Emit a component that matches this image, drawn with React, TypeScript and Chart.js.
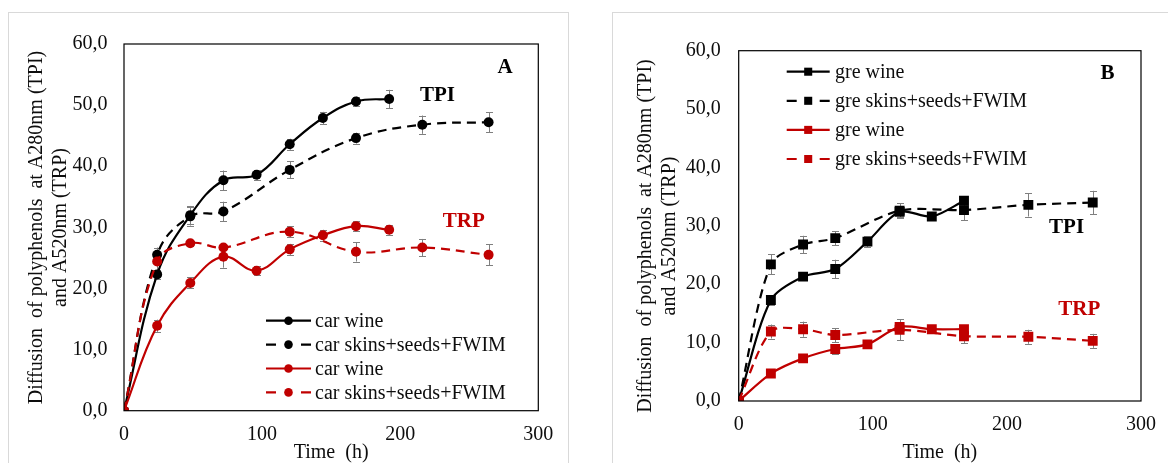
import React, { useEffect, useRef } from 'react';
import { Chart, registerables } from 'chart.js';

Chart.register(...registerables);

// ---------- DATA ----------
const xTickLabels = ['0', '100', '200', '300'];
const yTickLabels = ['0,0', '10,0', '20,0', '30,0', '40,0', '50,0', '60,0'];

// Panel A (car)
const timesWineA = [0, 24, 48, 72, 96, 120, 144, 168, 192];
const timesSkinsA = [0, 24, 48, 72, 120, 168, 216, 264];
const carWineTPI = [0, 22.3, 32.0, 37.7, 38.6, 43.6, 47.9, 50.6, 51.0];
const carWineTPIErr = [0, 0.8, 1.5, 1.6, 0.8, 0.9, 1.0, 0.8, 1.5];
const carSkinsTPI = [0, 25.5, 31.8, 32.6, 39.4, 44.6, 46.8, 47.2];
const carSkinsTPIErr = [0, 1.2, 1.5, 1.6, 1.4, 0.9, 1.5, 1.6];
const carWineTRP = [0, 13.9, 20.9, 25.2, 22.9, 26.4, 28.7, 30.2, 29.6];
const carWineTRPErr = [0, 1.0, 0.9, 1.8, 0.7, 0.9, 0.9, 0.8, 0.8];
const carSkinsTRP = [0, 24.4, 27.4, 26.7, 29.3, 26.0, 26.7, 25.5];
const carSkinsTRPErr = [0, 1.5, 0.4, 0.4, 0.9, 1.6, 1.4, 1.7];

// Panel B (gre)
const timesWineB = [0, 24, 48, 72, 96, 120, 144, 168];
const timesSkinsB = [0, 24, 48, 72, 120, 168, 216, 264];
const greWineTPI = [0, 17.3, 21.3, 22.6, 27.3, 32.4, 31.6, 34.3];
const greWineTPIErr = [0, 0.8, 0.5, 1.6, 0.9, 0.8, 0.3, 0.5];
const greSkinsTPI = [0, 23.4, 26.8, 27.9, 32.6, 32.7, 33.6, 34.0];
const greSkinsTPIErr = [0, 1.7, 1.5, 1.2, 1.3, 1.7, 2.0, 2.0];
const greWineTRP = [0, 4.7, 7.3, 8.9, 9.7, 12.7, 12.3, 12.3];
const greWineTRPErr = [0, 0.3, 0.3, 0.8, 0.3, 0.6, 0.3, 0.3];
const greSkinsTRP = [0, 11.9, 12.3, 11.3, 12.2, 11.1, 11.0, 10.3];
const greSkinsTRPErr = [0, 1.2, 1.3, 1.2, 1.8, 1.2, 1.2, 1.2];

const yTitleLines = ['Diffusion  of polyphenols  at A280nm (TPI)', 'and A520nm (TRP)'];
const xTitle = 'Time  (h)';

const BLACK = '#000000';
const RED = '#C00000';
const SERIF = "'Liberation Serif', 'Times New Roman', serif";
const TEXT = '#0d0d0d';

type Series = { label: string; times: number[]; values: number[]; errors: number[]; color: string; dashed: boolean };
type Note = { text: string; x: number; y: number; color: string; size: number };
type PanelCfg = {
  series: Series[];
  pointStyle: 'circle' | 'rect';
  pointRadius: number;
  legendRadius: number;
  tension: number;
  width: number;
  height: number;
  area: { left: number; top: number; right: number; bottom: number };
  yTickPad: number;
  yTitleX: number[];
  yTitleY: number;
  legend: { x: number; y0: number; dy: number; w: number; textGap: number };
  notes: Note[];
};

const panelA: PanelCfg = {
  series: [
    { label: 'car wine', times: timesWineA, values: carWineTPI, errors: carWineTPIErr, color: BLACK, dashed: false },
    { label: 'car skins+seeds+FWIM', times: timesSkinsA, values: carSkinsTPI, errors: carSkinsTPIErr, color: BLACK, dashed: true },
    { label: 'car wine', times: timesWineA, values: carWineTRP, errors: carWineTRPErr, color: RED, dashed: false },
    { label: 'car skins+seeds+FWIM', times: timesSkinsA, values: carSkinsTRP, errors: carSkinsTRPErr, color: RED, dashed: true },
  ],
  pointStyle: 'circle',
  pointRadius: 5,
  legendRadius: 4.3,
  tension: 0.4,
  width: 590,
  height: 463,
  area: { left: 124, top: 44, right: 538.3, bottom: 410.7 },
  yTickPad: 16.5,
  yTitleX: [37, 61],
  yTitleY: 227.5,
  legend: { x: 266, y0: 320.7, dy: 23.9, w: 45, textGap: 49 },
  notes: [
    { text: 'A', x: 276, y: 56.1, color: BLACK, size: 21 },
    { text: 'TPI', x: 227, y: 51.5, color: BLACK, size: 21 },
    { text: 'TRP', x: 246, y: 30.9, color: RED, size: 21 },
  ],
};

const panelB: PanelCfg = {
  series: [
    { label: 'gre wine', times: timesWineB, values: greWineTPI, errors: greWineTPIErr, color: BLACK, dashed: false },
    { label: 'gre skins+seeds+FWIM', times: timesSkinsB, values: greSkinsTPI, errors: greSkinsTPIErr, color: BLACK, dashed: true },
    { label: 'gre wine', times: timesWineB, values: greWineTRP, errors: greWineTRPErr, color: RED, dashed: false },
    { label: 'gre skins+seeds+FWIM', times: timesSkinsB, values: greSkinsTRP, errors: greSkinsTRPErr, color: RED, dashed: true },
  ],
  pointStyle: 'rect',
  pointRadius: 7,
  legendRadius: 5.7,
  tension: 0.3,
  width: 578,
  height: 463,
  area: { left: 148.7, top: 50.7, right: 556.7, bottom: 401 },
  yTickPad: 18,
  yTitleX: [55.4, 79.4],
  yTitleY: 236,
  legend: { x: 196.7, y0: 71.7, dy: 29.1, w: 43, textGap: 48.3 },
  notes: [
    { text: 'B', x: 275, y: 56.1, color: BLACK, size: 21 },
    { text: 'TPI', x: 244.5, y: 29.7, color: BLACK, size: 21 },
    { text: 'TRP', x: 254, y: 15.7, color: RED, size: 21 },
  ],
};

function drawMarker(ctx: CanvasRenderingContext2D, style: string, x: number, y: number, r: number, color: string) {
  ctx.fillStyle = color;
  ctx.beginPath();
  if (style === 'rect') {
    const s = r * Math.SQRT1_2;
    ctx.rect(x - s, y - s, 2 * s, 2 * s);
  } else {
    ctx.arc(x, y, r, 0, Math.PI * 2);
  }
  ctx.fill();
}

function makePlugin(cfg: PanelCfg) {
  return {
    id: 'panelDecor',
    beforeDatasetsDraw(chart: any) {
      const ctx = chart.ctx as CanvasRenderingContext2D;
      const xs = chart.scales.x;
      const ys = chart.scales.y;
      ctx.save();
      ctx.strokeStyle = '#7f7f7f';
      ctx.lineWidth = 1;
      cfg.series.forEach((s) => {
        s.times.forEach((t, j) => {
          const e = s.errors[j];
          if (!e) return;
          const px = Math.round(xs.getPixelForValue(t)) + 0.5;
          const y1 = ys.getPixelForValue(s.values[j] + e);
          const y2 = ys.getPixelForValue(s.values[j] - e);
          ctx.beginPath();
          ctx.moveTo(px, y1);
          ctx.lineTo(px, y2);
          ctx.moveTo(px - 3.5, Math.round(y1) + 0.5);
          ctx.lineTo(px + 3.5, Math.round(y1) + 0.5);
          ctx.moveTo(px - 3.5, Math.round(y2) + 0.5);
          ctx.lineTo(px + 3.5, Math.round(y2) + 0.5);
          ctx.stroke();
        });
      });
      ctx.restore();
    },
    afterDraw(chart: any) {
      const ctx = chart.ctx as CanvasRenderingContext2D;
      const a = chart.chartArea;
      const xs = chart.scales.x;
      const ys = chart.scales.y;
      ctx.save();
      // plot box
      ctx.strokeStyle = '#000';
      ctx.lineWidth = 1.2;
      ctx.strokeRect(a.left, a.top, a.right - a.left, a.bottom - a.top);

      // y title
      ctx.fillStyle = TEXT;
      ctx.font = `20px ${SERIF}`;
      ctx.textAlign = 'center';
      ctx.textBaseline = 'middle';
      yTitleLines.forEach((line, i) => {
        ctx.save();
        ctx.translate(cfg.yTitleX[i], cfg.yTitleY);
        ctx.rotate(-Math.PI / 2);
        ctx.fillText(line, 0, 0);
        ctx.restore();
      });

      // legend
      const L = cfg.legend;
      cfg.series.forEach((s, i) => {
        const y = L.y0 + i * L.dy;
        ctx.strokeStyle = s.color;
        ctx.lineWidth = 2.2;
        ctx.beginPath();
        if (s.dashed) {
          ctx.moveTo(L.x, y);
          ctx.lineTo(L.x + 10, y);
          ctx.moveTo(L.x + L.w - 10, y);
          ctx.lineTo(L.x + L.w, y);
        } else {
          ctx.moveTo(L.x, y);
          ctx.lineTo(L.x + L.w, y);
        }
        ctx.stroke();
        drawMarker(ctx, cfg.pointStyle, L.x + L.w / 2, y, cfg.legendRadius, s.color);
        ctx.fillStyle = TEXT;
        ctx.font = `20px ${SERIF}`;
        ctx.textAlign = 'left';
        ctx.textBaseline = 'middle';
        ctx.fillText(s.label, L.x + L.textGap, y + 1);
      });

      // annotations
      cfg.notes.forEach((n) => {
        ctx.fillStyle = n.color;
        ctx.font = `bold ${n.size}px ${SERIF}`;
        ctx.textAlign = 'center';
        ctx.textBaseline = 'middle';
        ctx.fillText(n.text, xs.getPixelForValue(n.x), ys.getPixelForValue(n.y));
      });
      ctx.restore();
    },
  };
}

function buildConfig(cfg: PanelCfg): any {
  const n = cfg.series.length;
  return {
    type: 'line',
    data: {
      datasets: cfg.series.map((s, i) => ({
        label: s.label,
        data: s.times.map((t, j) => ({ x: t, y: s.values[j] })),
        borderColor: s.color,
        backgroundColor: s.color,
        borderWidth: 2.2,
        borderDash: s.dashed ? [9, 6] : [],
        pointStyle: cfg.pointStyle,
        pointRadius: cfg.pointRadius,
        pointBorderWidth: 0,
        pointBackgroundColor: s.color,
        tension: cfg.tension,
        fill: false,
        order: n - i,
      })),
    },
    options: {
      responsive: false,
      animation: false,
      events: [],
      layout: { padding: { left: 0, top: cfg.area.top, right: cfg.width - cfg.area.right, bottom: 0 } },
      plugins: { legend: { display: false }, tooltip: { enabled: false }, title: { display: false } },
      scales: {
        x: {
          type: 'linear',
          min: 0,
          max: 300,
          grid: { display: false, drawTicks: false },
          border: { display: false },
          ticks: {
            stepSize: 100,
            padding: 12,
            color: TEXT,
            font: { family: SERIF, size: 20 },
            maxRotation: 0,
            callback: (_v: any, i: number) => xTickLabels[i],
          },
          title: {
            display: true,
            text: xTitle,
            color: TEXT,
            font: { family: SERIF, size: 20, lineHeight: 1.05 },
            padding: 0,
          },
          afterFit: (s: any) => {
            s.height = cfg.height - cfg.area.bottom;
          },
        },
        y: {
          type: 'linear',
          min: 0,
          max: 60,
          grid: { display: false, drawTicks: false },
          border: { display: false },
          ticks: {
            stepSize: 10,
            padding: cfg.yTickPad,
            color: TEXT,
            font: { family: SERIF, size: 20 },
            callback: (_v: any, i: number) => yTickLabels[i],
          },
          afterFit: (s: any) => {
            s.width = cfg.area.left;
          },
        },
      },
    },
    plugins: [makePlugin(cfg)],
  };
}

function Panel({ cfg, left }: { cfg: PanelCfg; left: number }) {
  const ref = useRef<HTMLCanvasElement>(null);
  useEffect(() => {
    const chart = new Chart(ref.current as HTMLCanvasElement, buildConfig(cfg));
    return () => chart.destroy();
  }, [cfg]);
  return (
    <canvas
      ref={ref}
      width={cfg.width}
      height={cfg.height}
      style={{ position: 'absolute', left, top: 0, width: cfg.width, height: cfg.height }}
    />
  );
}

export default function App() {
  return (
    <div
      style={{
        position: 'fixed',
        left: 0,
        top: 0,
        width: 1168,
        height: 463,
        background: '#fff',
        overflow: 'hidden',
      }}
    >
      <div
        style={{
          position: 'absolute',
          left: 8,
          top: 12,
          width: 561,
          height: 470,
          border: '1px solid #d9d9d9',
          boxSizing: 'border-box',
        }}
      />
      <div
        style={{
          position: 'absolute',
          left: 612,
          top: 12,
          width: 600,
          height: 470,
          border: '1px solid #d9d9d9',
          boxSizing: 'border-box',
        }}
      />
      <Panel cfg={panelA} left={0} />
      <Panel cfg={panelB} left={590} />
    </div>
  );
}
